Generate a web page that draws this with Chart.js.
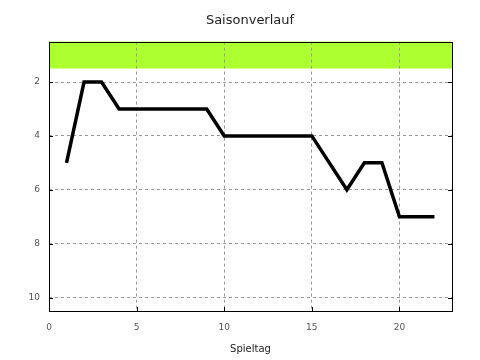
<!DOCTYPE html>
<html><head><meta charset="utf-8">
<script src="https://cdn.jsdelivr.net/npm/chart.js@4/dist/chart.umd.min.js"></script>
<style>html,body{margin:0;padding:0;background:#fff}#wrap{width:480px;height:360px}</style>
</head><body><div id="wrap"><canvas id="c" width="480" height="360"></canvas></div>
<script>
const spieltage = [1,2,3,4,5,6,7,8,9,10,11,12,13,14,15,16,17,18,19,20,21,22];
const platz = [5,2,2,3,3,3,3,3,3,4,4,4,4,4,4,5,6,5,5,7,7,7];
const xTicks = [0,5,10,15,20];
const yTicks = [2,4,6,8,10];
const band = [0.5,1.5];

const framePlugin = {
  id:'frame',
  beforeDraw(chart){
    const {ctx, chartArea:a, scales:{y}} = chart;
    ctx.save();
    ctx.fillStyle = '#adff2f';
    const t = y.getPixelForValue(band[0]), b = y.getPixelForValue(band[1]);
    ctx.fillRect(a.left, t, a.right-a.left, b-t);
    ctx.restore();
  },
  afterDraw(chart){
    const {ctx, chartArea:a, scales:{x,y}} = chart;
    ctx.save();
    ctx.strokeStyle = '#000';
    ctx.lineWidth = 1;
    ctx.beginPath();
    xTicks.forEach(v=>{const px=Math.round(x.getPixelForValue(v))+0.5;
      ctx.moveTo(px,a.bottom);ctx.lineTo(px,a.bottom-4);});
    yTicks.forEach(v=>{const py=Math.round(y.getPixelForValue(v))+0.5;
      ctx.moveTo(a.left,py);ctx.lineTo(a.left+4,py);
      ctx.moveTo(a.right,py);ctx.lineTo(a.right-4,py);});
    ctx.stroke();
    ctx.strokeRect(Math.round(a.left)+0.5, Math.round(a.top)+0.5, Math.round(a.right-a.left), Math.round(a.bottom-a.top));
    ctx.restore();
  }
};

const tickFont = {family:'DejaVu Sans', size:9};
new Chart(document.getElementById('c'), {
  type:'line',
  data:{datasets:[{
    data: spieltage.map((s,i)=>({x:s,y:platz[i]})),
    borderColor:'#000', borderWidth:3.5, pointRadius:0, tension:0, fill:false,
    borderJoinStyle:'miter'
  }]},
  options:{
    responsive:false, animation:false,
    layout:{padding:{left:20,right:0,top:0,bottom:0}},
    plugins:{
      legend:{display:false}, tooltip:{enabled:false},
      title:{display:true, text:'Saisonverlauf', color:'#222',
        font:{family:'DejaVu Sans', size:13, weight:'normal'}, padding:{top:13,bottom:13}}
    },
    scales:{
      x:{type:'linear', min:0, max:23,
        afterBuildTicks(s){s.ticks = xTicks.map(v=>({value:v}));},
        afterFit(s){s.height = 49;},
        grid:{color:'#999', drawTicks:false, tickLength:0},
        border:{display:false, dash:[3,3]},
        ticks:{font:tickFont, color:'#555', padding:11, maxRotation:0},
        title:{display:true, text:'Spieltag', color:'#222', font:{family:'DejaVu Sans', size:10}, padding:{top:0,bottom:5}}
      },
      y:{type:'linear', reverse:true, min:0.5, max:10.5,
        afterBuildTicks(s){s.ticks = yTicks.map(v=>({value:v}));},
        afterFit(s){s.width = 29;},
        grid:{color:'#999', drawTicks:false, tickLength:0},
        border:{display:false, dash:[3,3]},
        ticks:{font:tickFont, color:'#555', padding:9}
      },
      y2:{type:'linear', position:'right', reverse:true, min:0.5, max:10.5,
        afterFit(s){s.width = 28;},
        grid:{display:false, drawOnChartArea:false, drawTicks:false},
        border:{display:false},
        ticks:{display:false}
      }
    }
  },
  plugins:[framePlugin]
});
</script></body></html>
